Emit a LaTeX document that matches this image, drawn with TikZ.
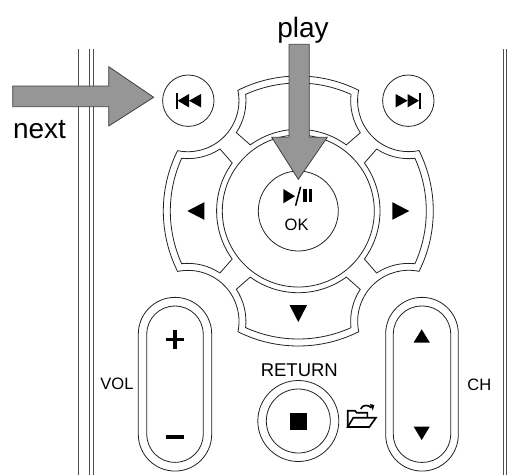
\documentclass[tikz,border=0pt]{standalone}
\usepackage{fontspec}
\setmainfont{Liberation Sans}
\definecolor{linegray}{HTML}{222222}
\definecolor{arrowgray}{HTML}{969696}
\begin{document}
\begin{tikzpicture}[
x=1pt,
y=1pt,
padline/.style={draw=linegray, line width=0.8pt},
edgeline/.style={draw=linegray!80, line width=0.8pt},
roundbtn/.style={circle, padline, inner sep=0pt, minimum size=#1},
capsule/.style={rectangle, padline, inner sep=0pt, rounded corners=28pt},
glyph/.style={fill=black, draw=none},
bigarrow/.style={fill=arrowgray, draw=black!75, line width=0.8pt, line join=miter},
]
\useasboundingbox (-298.3,-264) rectangle (211.7,211);
% remote edges
\foreach \i in {-219.6,-209,-205.3,204.7,208.2}
{
 \draw[edgeline] (\i,162) -- (\i,-264);
}
% outer contour of the pad
\foreach \a in {0,90,180,270}
{
 \draw[padline,rotate=\a] (-26.6:135) arc[start angle=-26.6,end angle=26.6,radius=135]
  arc[start angle=281.8,end angle=168.2,radius=51];
}
% the four direction buttons
\foreach \a in {0,90,180,270}
{
 \draw[padline,rotate=\a] (-24.3:128) arc[start angle=-24.3,end angle=24.3,radius=128]
  arc[start angle=276.2,end angle=236.5,radius=58] -- (36:81.7)
  arc[start angle=36,end angle=-36,radius=81.7] -- (78.3,-62)
  arc[start angle=123.5,end angle=83.8,radius=58] -- cycle;
}
\foreach \a in {0,180,270}
{
 \fill[glyph,rotate=\a] (94,-8.8) -- (111,0) -- (94,8.8) -- cycle;
}
% centre
\node[roundbtn=152pt] (ringbtn) at (0,0) {};
\node[roundbtn=80pt] (okbtn) at (0,0) {};
\fill[glyph] (-15,22) -- (-3.3,14.8) -- (-15,7.7) -- cycle;
\draw[line width=1.5pt] (-2.7,5.3) -- (2.3,24.3);
\fill[glyph] (5,8.7) rectangle (8.3,22);
\fill[glyph] (10.3,8.7) rectangle (14,22);
\node[anchor=base,inner sep=0pt,font=\fontsize{16.5}{16.5}\selectfont] (oklabel) at (-1.7,-19) {OK};
% skip buttons
\node[roundbtn=51.4pt] (prevbtn) at (-110,110.3) {};
\node[roundbtn=51.4pt] (nextbtn) at (110,110.3) {};
\foreach \s in {-1,1}
{
 \fill[glyph,xshift=-\s*110] (\s*0.7,110.3) -- (\s*12.7,117) -- (\s*12.7,103.6) -- cycle;
 \fill[glyph,xshift=-\s*110] (\s*-10.7,110.3) -- (\s*0.7,117) -- (\s*0.7,103.6) -- cycle;
 \fill[glyph,xshift=-\s*110] (\s*-10.7,102.3) rectangle (\s*-12.3,118.3);
}
% volume
\node[capsule,rounded corners=36.7pt,minimum width=73.4pt,minimum height=173.7pt] (volouter) at (-123.3,-173.2) {};
\node[capsule,minimum width=56.4pt,minimum height=156.3pt] (volinner) at (-123.3,-173.2) {};
\draw[line width=3.4pt] (-132.6,-128.3) -- (-114,-128.3);
\draw[line width=3.4pt] (-123.3,-119) -- (-123.3,-137.6);
\draw[line width=3.4pt] (-132.6,-226) -- (-114,-226);
\node[font=\fontsize{16.5}{16.5}\selectfont] (vollabel) at (-181.3,-173) {VOL};
% channel
\node[capsule,rounded corners=36.3pt,minimum width=72.6pt,minimum height=173.7pt] (chouter) at (123.7,-173.2) {};
\node[capsule,minimum width=57.4pt,minimum height=156.3pt] (chinner) at (123.7,-173.2) {};
\fill[glyph] (115.2,-131.7) -- (123.4,-118.3) -- (131.6,-131.7) -- cycle;
\fill[glyph] (115.4,-215.7) -- (123.4,-229) -- (131.4,-215.7) -- cycle;
\node[font=\fontsize{16.5}{16.5}\selectfont] (chlabel) at (181,-174) {CH};
% return
\node[anchor=base,inner sep=0pt,font=\fontsize{18.5}{18.5}\selectfont] (returnlabel) at (1,-165.7) {RETURN};
\node[roundbtn=81pt] (returnouter) at (0,-210) {};
\node[roundbtn=64pt] (returninner) at (0,-210) {};
\fill[glyph] (-8.3,-202.3) rectangle (8.7,-219);
% folder
\draw[line width=1.6pt,line join=miter] (69,-206) -- (69,-201.7) -- (58.4,-201.7) -- (56.7,-199.7) -- (49.4,-199.7) -- (49.4,-216);
\draw[line width=1.6pt,line join=miter] (49.4,-216) -- (55,-206.7) -- (77.7,-206.7) -- (71,-216) -- cycle;
\draw[line width=1.6pt] (62.4,-198) .. controls (64,-193.5) and (70,-193.5) .. (73,-196.7);
\fill[glyph] (71.5,-193) -- (76,-194) -- (74.5,-199.5) -- cycle;
% labels and block arrows
\node[anchor=base,inner sep=0pt,font=\fontsize{28}{28}\selectfont] (playlabel) at (4.7,173.7) {play};
\node[anchor=base,inner sep=0pt,font=\fontsize{28}{28}\selectfont] (nextlabel) at (-258.8,72.7) {next};
\draw[bigarrow] (-285.6,125) -- (-189.6,125) -- (-189.6,144.3) -- (-144.6,113.7) -- (-189.6,85) -- (-189.6,104.3) -- (-285.6,104.3) -- cycle;
\draw[bigarrow] (-9.3,166.7) -- (11,166.7) -- (11,73.7) -- (29,73.7) -- (0,31.7) -- (-26.6,73.7) -- (-9.3,73.7) -- cycle;
\end{tikzpicture}
\end{document}
